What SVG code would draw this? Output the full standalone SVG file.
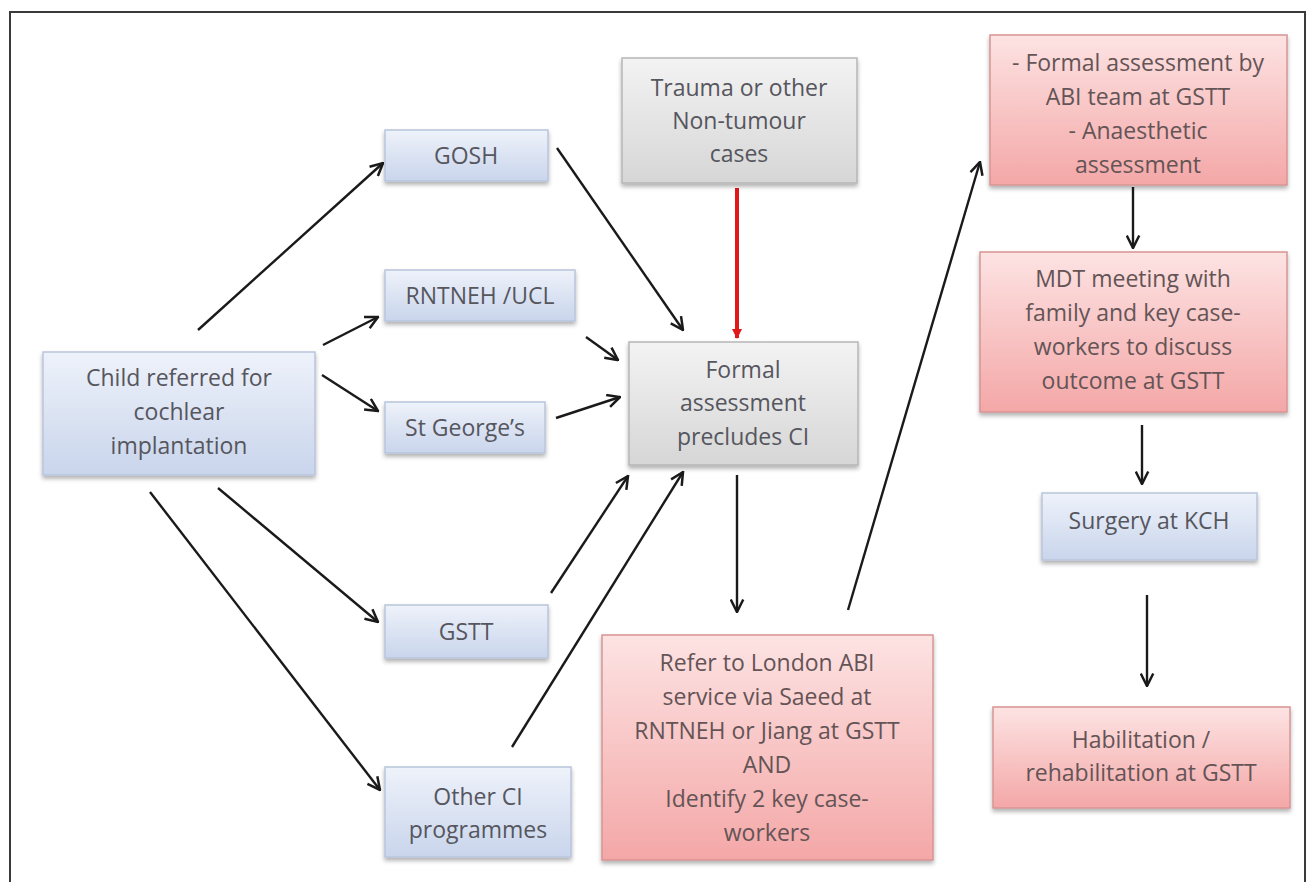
<svg xmlns="http://www.w3.org/2000/svg" width="1313" height="882" viewBox="0 0 1313 882">
<style>
.t{font-family:"Open Sans","Liberation Sans",sans-serif;font-size:23px;fill:#56565e;text-anchor:middle}
.tp{fill:#645456}
.blue{fill:url(#gb);stroke:#b9c5dc;stroke-width:1.5;filter:url(#sh)}
.gray{fill:url(#gg);stroke:#b6b6b6;stroke-width:1.5;filter:url(#sh)}
.pink{fill:url(#gp);stroke:#d79494;stroke-width:1.5;filter:url(#sh)}
.c{stroke:#1a1a1a;stroke-width:2.4;fill:none;marker-end:url(#ah)}
.r{stroke:#e01818;stroke-width:4;fill:none;marker-end:url(#ahr)}
</style>
<defs>
<linearGradient id="gb" x1="0" y1="0" x2="0" y2="1"><stop offset="0" stop-color="#eef2fa"/><stop offset="1" stop-color="#c9d5ec"/></linearGradient>
<linearGradient id="gg" x1="0" y1="0" x2="0" y2="1"><stop offset="0" stop-color="#f3f3f3"/><stop offset="1" stop-color="#d6d6d6"/></linearGradient>
<linearGradient id="gp" x1="0" y1="0" x2="0" y2="1"><stop offset="0" stop-color="#fde3e3"/><stop offset="1" stop-color="#f4a7a7"/></linearGradient>
<filter id="sh" x="-10%" y="-10%" width="120%" height="130%"><feDropShadow dx="0" dy="3" stdDeviation="2" flood-color="#000" flood-opacity="0.3"/></filter>
<marker id="ah" viewBox="0 0 12 12" refX="11" refY="6" markerWidth="15" markerHeight="15" markerUnits="userSpaceOnUse" orient="auto"><path d="M1,1 L11,6 L1,11" fill="none" stroke="#1a1a1a" stroke-width="2"/></marker>
<marker id="ahr" viewBox="0 0 12 12" refX="10" refY="6" markerWidth="12" markerHeight="12" markerUnits="userSpaceOnUse" orient="auto"><path d="M1,1 L11,6 L1,11 Z" fill="#e01818"/></marker>
</defs>
<rect width="1313" height="882" fill="#ffffff"/>
<path d="M10,882 V12 H1305 V882" fill="none" stroke="#3a3a3a" stroke-width="2"/>

<g id="connectors">
<line class="c" x1="198" y1="330" x2="383" y2="163"/>
<line class="c" x1="323" y1="345" x2="378" y2="317"/>
<line class="c" x1="322" y1="375" x2="378" y2="411"/>
<line class="c" x1="218" y1="488" x2="378" y2="622"/>
<line class="c" x1="150" y1="492" x2="380" y2="790"/>
<line class="c" x1="557" y1="148" x2="683" y2="330"/>
<line class="c" x1="586" y1="337" x2="618" y2="360"/>
<line class="c" x1="556" y1="418" x2="620" y2="397"/>
<line class="c" x1="551" y1="593" x2="628" y2="476"/>
<line class="c" x1="512" y1="747" x2="683" y2="472"/>
<line class="r" x1="737" y1="188" x2="737" y2="338"/>
<line class="c" x1="737" y1="475" x2="737" y2="612"/>
<line class="c" x1="848" y1="610" x2="980" y2="162"/>
<line class="c" x1="1133" y1="187" x2="1133" y2="248"/>
<line class="c" x1="1142" y1="425" x2="1142" y2="484"/>
<line class="c" x1="1147" y1="595" x2="1147" y2="686"/>
</g>

<g id="child"><rect class="blue" x="43" y="352" width="272" height="123"/>
<text class="t" x="179" y="378" dy="0.35em">Child referred for</text>
<text class="t" x="179" y="412" dy="0.35em">cochlear</text>
<text class="t" x="179" y="446" dy="0.35em">implantation</text></g>

<g id="gosh"><rect class="blue" x="385" y="130" width="163" height="51"/>
<text class="t" x="466" y="156" dy="0.35em">GOSH</text></g>

<g id="rntneh"><rect class="blue" x="385" y="270" width="190" height="51"/>
<text class="t" x="480" y="296" dy="0.35em">RNTNEH /UCL</text></g>

<g id="stgeorges"><rect class="blue" x="385" y="402" width="160" height="51"/>
<text class="t" x="465" y="428" dy="0.35em">St George’s</text></g>

<g id="gstt"><rect class="blue" x="385" y="605" width="163" height="53"/>
<text class="t" x="466" y="632" dy="0.35em">GSTT</text></g>

<g id="other"><rect class="blue" x="385" y="767" width="186" height="90"/>
<text class="t" x="478" y="797" dy="0.35em">Other CI</text>
<text class="t" x="478" y="830" dy="0.35em">programmes</text></g>

<g id="trauma"><rect class="gray" x="622" y="58" width="235" height="125"/>
<text class="t" x="739" y="88" dy="0.35em">Trauma or other</text>
<text class="t" x="739" y="121" dy="0.35em">Non-tumour</text>
<text class="t" x="739" y="154" dy="0.35em">cases</text></g>

<g id="formal"><rect class="gray" x="629" y="342" width="229" height="123"/>
<text class="t" x="743" y="370" dy="0.35em">Formal</text>
<text class="t" x="743" y="403" dy="0.35em">assessment</text>
<text class="t" x="743" y="437" dy="0.35em">precludes CI</text></g>

<g id="refer"><rect class="pink" x="602" y="635" width="331" height="225"/>
<text class="t tp" x="767" y="663" dy="0.35em">Refer to London ABI</text>
<text class="t tp" x="767" y="697" dy="0.35em">service via Saeed at</text>
<text class="t tp" x="767" y="731" dy="0.35em">RNTNEH or Jiang at GSTT</text>
<text class="t tp" x="767" y="765" dy="0.35em">AND</text>
<text class="t tp" x="767" y="799" dy="0.35em">Identify 2 key case-</text>
<text class="t tp" x="767" y="833" dy="0.35em">workers</text></g>

<g id="abi"><rect class="pink" x="990" y="35" width="297" height="150"/>
<text class="t tp" x="1138" y="63" dy="0.35em">- Formal assessment by</text>
<text class="t tp" x="1138" y="97" dy="0.35em">ABI team at GSTT</text>
<text class="t tp" x="1138" y="131" dy="0.35em">- Anaesthetic</text>
<text class="t tp" x="1138" y="165" dy="0.35em">assessment</text></g>

<g id="mdt"><rect class="pink" x="980" y="252" width="307" height="160"/>
<text class="t tp" x="1133" y="279" dy="0.35em">MDT meeting with</text>
<text class="t tp" x="1133" y="313" dy="0.35em">family and key case-</text>
<text class="t tp" x="1133" y="347" dy="0.35em">workers to discuss</text>
<text class="t tp" x="1133" y="381" dy="0.35em">outcome at GSTT</text></g>

<g id="surgery"><rect class="blue" x="1042" y="493" width="215" height="67"/>
<text class="t" x="1149" y="521" dy="0.35em">Surgery at KCH</text></g>

<g id="habilitation"><rect class="pink" x="993" y="707" width="297" height="101"/>
<text class="t tp" x="1141" y="740" dy="0.35em">Habilitation /</text>
<text class="t tp" x="1141" y="773" dy="0.35em">rehabilitation at GSTT</text></g>
</svg>
